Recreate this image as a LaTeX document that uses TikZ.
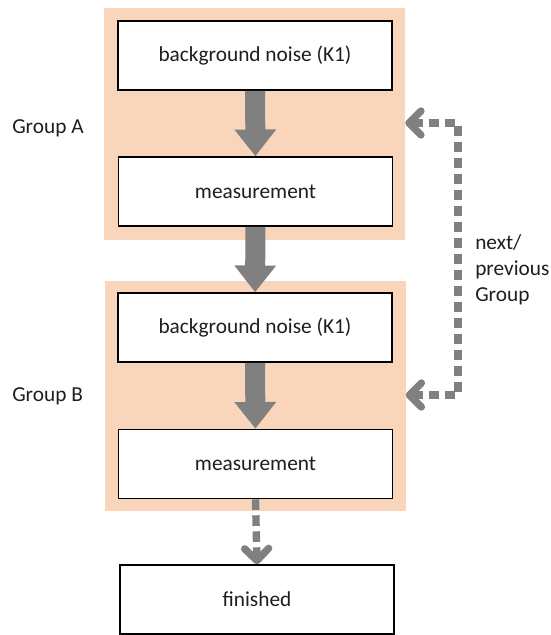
\documentclass[tikz,border=0pt]{standalone}
\usepackage{fontspec}
\setmainfont{Carlito}
\usetikzlibrary{arrows.meta}
\definecolor{peach}{HTML}{F9D5BB}
\definecolor{arrgray}{HTML}{808080}
\definecolor{txt}{HTML}{1E1E1E}
\begin{document}
\begin{tikzpicture}[x=0.75pt,y=-0.75pt,
  stepbox/.style={draw=black, line width=1.2pt, fill=white, minimum width=205.5pt, minimum height=51.75pt, inner sep=0pt, text=txt, font=\fontsize{16}{19}\selectfont},
  groupbox/.style={fill=peach, draw=none, minimum width=225.75pt, inner sep=0pt},
  label/.style={text=txt, font=\fontsize{16}{19.5}\selectfont, inner sep=0pt},
  bigarrow/.style={draw=arrgray, line width=15pt, line cap=butt, -{Triangle[width=30pt,length=20pt]}},
  dashline/.style={draw=arrgray, line width=5.5pt, dash pattern=on 8pt off 4pt},
  barb/.tip={Straight Barb[width=18pt,length=9pt,round]}
]
\useasboundingbox (0,0) rectangle (550,635);
\node[groupbox, minimum height=174pt] (ga) at (254.5,124) {};
\node[groupbox, minimum height=172.5pt] (gb) at (255,396) {};
\node[stepbox] (b1) at (255,55.5) {background noise (K1)};
\node[stepbox] (m1) at (255.5,191.5) {measurement};
\node[stepbox] (b2) at (255,327.5) {background noise (K1)};
\node[stepbox] (m2) at (255.5,464) {measurement};
\node[stepbox] (fin) at (257,599.5) {finished};
\draw[bigarrow] (b1) -- (m1);
\draw[bigarrow] (m1) -- (b2);
\draw[bigarrow] (b2) -- (m2);
\draw[dashline, -barb] (m2.south) -- (fin.north);
\coordinate (rt) at (458,123);
\coordinate (rb) at (458,395);
\draw[dashline, barb-barb] (ga.east |- rt) -- (rt) -- (rb) -- (gb.east |- rb);
\node[label, anchor=west, align=left] (ng) at (475,270) {next/\\previous\\Group};
\node[label, anchor=west] (la) at (12,128) {Group A};
\node[label, anchor=west] (lb) at (12,396) {Group B};
\end{tikzpicture}
\end{document}
